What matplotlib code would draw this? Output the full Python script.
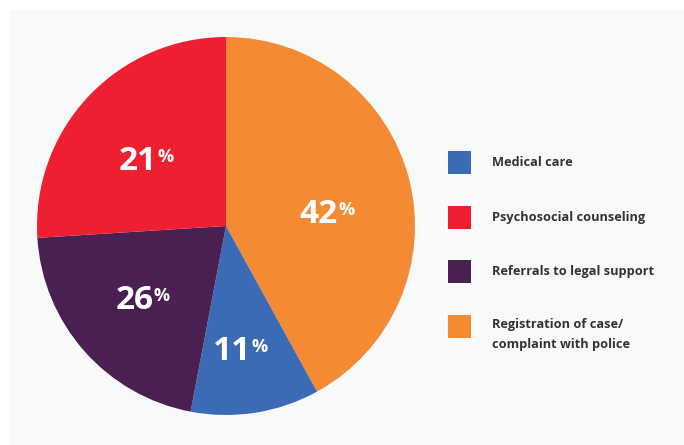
import matplotlib
matplotlib.use("Agg")
import matplotlib.pyplot as plt
from matplotlib.patches import Rectangle

# Data (clockwise from top)
categories = ["Registration of case/\ncomplaint with police", "Medical care",
              "Referrals to legal support", "Psychosocial counseling"]
slice_sizes = [42, 11, 21, 26]           # wedge sizes as drawn
printed_labels = ["42", "11", "26", "21"]  # percentages as printed on the chart
colors = ["#F58A34", "#3B6BB5", "#4A2052", "#EE1F30"]

legend_order = ["Medical care", "Psychosocial counseling",
                "Referrals to legal support",
                "Registration of case/\ncomplaint with police"]

W, H = 684, 445
fig = plt.figure(figsize=(W / 100, H / 100), dpi=100)
fig.patch.set_facecolor("white")
fig.patches.append(Rectangle((10 / W, 0), 1 - 10 / W, 1 - 10 / H,
                             transform=fig.transFigure, facecolor="#F8F9F9",
                             edgecolor="none", zorder=-5))

cx, cy, r = 226, 226, 189
ax = fig.add_axes([(cx - r) / W, (H - cy - r) / H, 2 * r / W, 2 * r / H])
ax.set_zorder(2)

ax.pie(slice_sizes, colors=colors, startangle=90, counterclock=False,
       radius=1, wedgeprops=dict(linewidth=0))
ax.set_xlim(-1, 1)
ax.set_ylim(-1, 1)
ax.set_aspect("equal")
ax.axis("off")

# label positions (in pie radius units)
label_pos = [(0.49, 0.06), (0.03, -0.665), (-0.485, -0.395), (-0.465, 0.34)]
font = "Open Sans"
for (x, y), lab in zip(label_pos, printed_labels):
    t = ax.text(x, y, lab, color="white", fontsize=24, fontweight="bold",
                family=font, ha="center", va="center")
    ax.annotate("%", xy=(1, 1), xycoords=t, xytext=(0.3, -2),
                textcoords="offset points", color="white", fontsize=13,
                fontweight="bold", family=font, ha="left", va="top")

# legend
row_y = [162, 217, 271, 326]
for yy, name in zip(row_y, legend_order):
    col = colors[categories.index(name)]
    fig.patches.append(Rectangle((448 / W, (H - yy - 11.5) / H), 23 / W, 23 / H,
                                 transform=fig.transFigure, facecolor=col,
                                 edgecolor="none", zorder=3))
    if "\n" in name:
        fig.text(492 / W, (H - yy + 8) / H, name, color="#333333",
                 fontsize=9.2, fontweight="bold", family=font, ha="left",
                 va="top", linespacing=1.7, zorder=3)
    else:
        fig.text(492 / W, (H - yy) / H, name, color="#333333",
                 fontsize=9.2, fontweight="bold", family=font, ha="left",
                 va="center", zorder=3)

fig.savefig("out.png", dpi=100, facecolor=fig.get_facecolor())
